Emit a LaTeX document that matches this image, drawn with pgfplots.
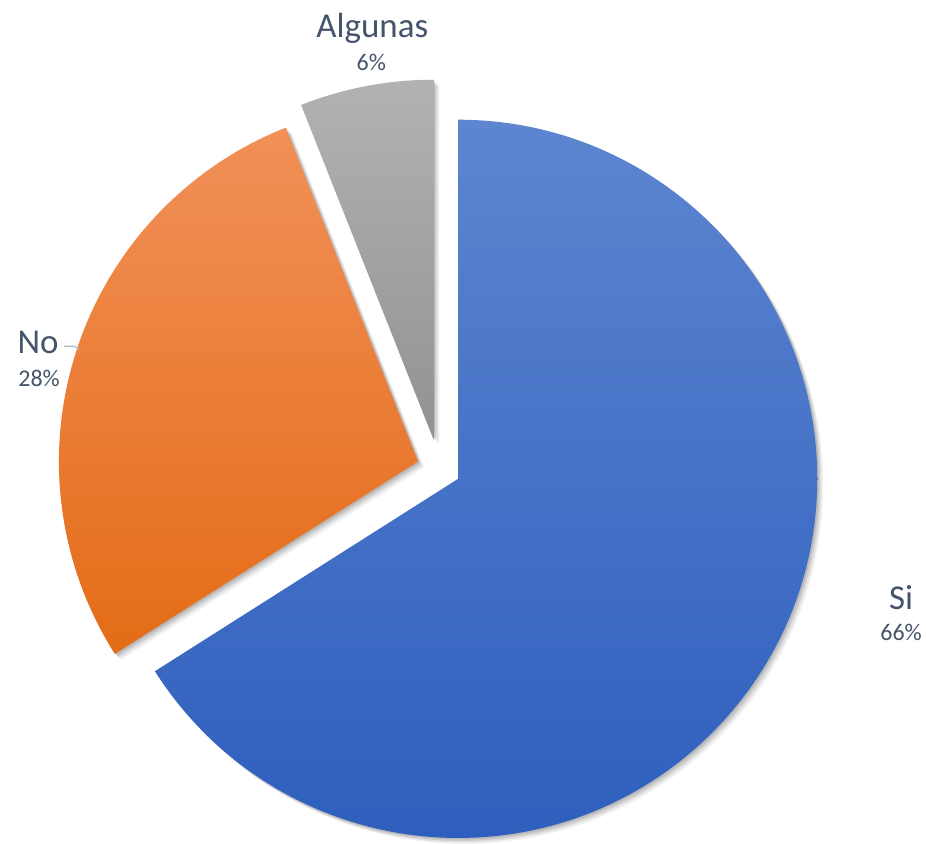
\documentclass[border=0pt]{standalone}
\usepackage{pgfplots}
\pgfplotsset{compat=1.18}
\usepackage{pgfplotstable}
\usepackage{fontspec}
\setmainfont{Carlito}
\definecolor{txt}{HTML}{44546A}
\definecolor{lead}{HTML}{A9B6C8}
\definecolor{siT}{HTML}{5D85D0}
\definecolor{siM}{HTML}{4370CB}
\definecolor{siB}{HTML}{2E5FBE}
\definecolor{noT}{HTML}{F19058}
\definecolor{noM}{HTML}{F47C25}
\definecolor{noB}{HTML}{E46C17}
\definecolor{alT}{HTML}{B2B2B2}
\definecolor{alB}{HTML}{929292}

\pgfplotstableread{
label value explode
Si 66 22
No 28 22
Algunas 6 30
}\piedata

\def\cx{437.7}
\def\cy{373.6}
\def\R{360}
\xdef\curangle{90}
\newcommand\computeslice[2]{%
 \pgfplotstablegetelem{#1}{value}\of\piedata \pgfmathsetmacro\val{\pgfplotsretval}%
 \pgfplotstablegetelem{#1}{explode}\of\piedata \pgfmathsetmacro\ex{\pgfplotsretval}%
 \pgfmathsetmacro\st{\curangle}%
 \pgfmathsetmacro\en{\curangle-3.6*\val}%
 \pgfmathsetmacro\md{(\st+\en)/2}%
 \pgfmathsetmacro\ax{\cx+\ex*cos(\md)}%
 \pgfmathsetmacro\ay{\cy+\ex*sin(\md)}%
 \expandafter\xdef\csname st#2\endcsname{\st}%
 \expandafter\xdef\csname en#2\endcsname{\en}%
 \expandafter\xdef\csname ax#2\endcsname{\ax}%
 \expandafter\xdef\csname ay#2\endcsname{\ay}%
 \xdef\curangle{\en}%
}
\newcommand\slicepath[1]{(axis cs:\csname ax#1\endcsname,\csname ay#1\endcsname) -- ++(\csname st#1\endcsname:\R pt) arc[start angle=\csname st#1\endcsname, end angle=\csname en#1\endcsname, radius=\R pt] -- cycle}
\newcommand\shadowlayer[2]{%
  \fill[black, opacity=#2, shift={(#1pt,-#1pt)}] \slicepath{Si};
  \fill[black, opacity=#2, shift={(#1pt,-#1pt)}] \slicepath{No};
  \fill[black, opacity=#2, shift={(#1pt,-#1pt)}] \slicepath{Al};
}

\begin{document}
\computeslice{0}{Si}\computeslice{1}{No}\computeslice{2}{Al}
\begin{tikzpicture}
\begin{axis}[
  scale only axis, width=926pt, height=843pt,
  xmin=0, xmax=926, ymin=0, ymax=843,
  hide axis, clip=false]
\path (axis cs:0,0) rectangle (axis cs:926,843);
% soft shadows
\shadowlayer{6}{0.05}
\shadowlayer{4.5}{0.07}
\shadowlayer{3}{0.09}
\shadowlayer{1.5}{0.1}
\shade[top color=siT, middle color=siM, bottom color=siB] \slicepath{Si};
\shade[top color=noT, middle color=noM, bottom color=noB] \slicepath{No};
\shade[top color=alT, bottom color=alB] \slicepath{Al};
% leader line for No
\draw[lead, line width=1.2pt] (axis cs:62,496) -- (axis cs:72,496) -- (axis cs:77,493);
% labels
\node[anchor=base, text=txt, font=\fontsize{35}{38}\selectfont] at (axis cs:371,805) {Algunas};
\node[anchor=base, text=txt, font=\fontsize{24}{26}\selectfont] at (axis cs:370,772) {6\%};
\node[anchor=base, text=txt, font=\fontsize{35}{38}\selectfont] at (axis cs:36,489) {No};
\node[anchor=base, text=txt, font=\fontsize{24}{26}\selectfont] at (axis cs:37,456) {28\%};
\node[anchor=base, text=txt, font=\fontsize{35}{38}\selectfont] at (axis cs:901,232) {Si};
\node[anchor=base, text=txt, font=\fontsize{24}{26}\selectfont] at (axis cs:901,201) {66\%};
\end{axis}
\end{tikzpicture}
\end{document}
